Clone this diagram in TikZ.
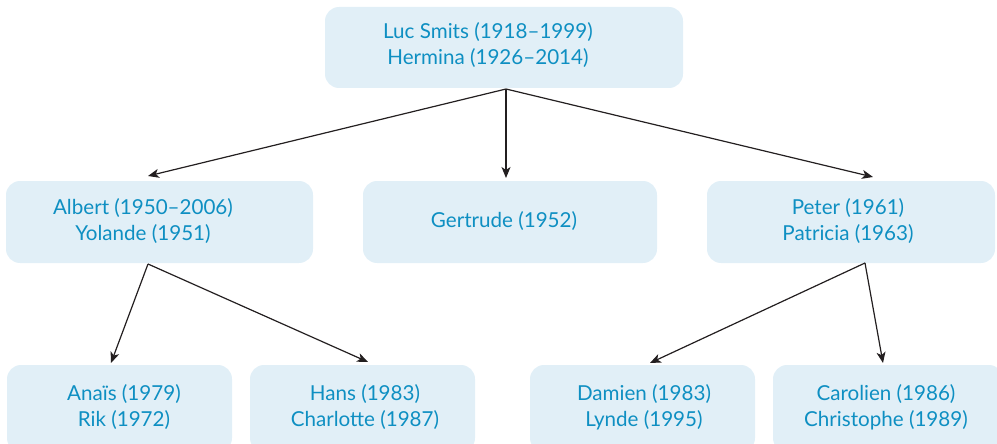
\documentclass[tikz,border=0pt]{standalone}
\usepackage{fontspec}
\setmainfont{Lato}
\usetikzlibrary{arrows.meta}
\definecolor{boxfill}{HTML}{E1EFF7}
\definecolor{txt}{HTML}{0E8FC2}
\definecolor{ln}{HTML}{231F20}
\begin{document}
\begin{tikzpicture}[x=1pt,y=-1pt,
  box/.style={fill=boxfill,draw=none,rounded corners=14pt},
  lbl/.style={text=txt,font=\fontsize{20.6}{26}\selectfont,align=center,inner sep=0pt},
  conn/.style={draw=ln,line width=1.2pt,-{Stealth[length=11pt,width=9pt,inset=3pt]}}]
\clip (0,0) rectangle (997,444);
\useasboundingbox (0,0) rectangle (997,444);
% boxes
\path[box] (325,7) rectangle (683,88);
\path[box] (6,181) rectangle (313,263);
\path[box] (363,181) rectangle (657,263);
\path[box] (707,181) rectangle (995,263);
\path[box] (7,365) rectangle (232,452);
\path[box] (250,365) rectangle (475,452);
\path[box] (530,365) rectangle (755,452);
\path[box] (773,365) rectangle (1003,452);
% labels
\node[lbl] (luc) at (488,45) {Luc Smits (1918–1999)\\Hermina (1926–2014)};
\node[lbl] (albert) at (143,221.5) {Albert (1950–2006)\\Yolande (1951)};
\node[lbl] (gertrude) at (504,221) {Gertrude (1952)};
\node[lbl] (peter) at (848,221.5) {Peter (1961)\\Patricia (1963)};
\node[lbl] (anais) at (124,407) {Anaïs (1979)\\Rik (1972)};
\node[lbl] (hans) at (365,407) {Hans (1983)\\Charlotte (1987)};
\node[lbl] (damien) at (644,407) {Damien (1983)\\Lynde (1995)};
\node[lbl] (carolien) at (886,407) {Carolien (1986)\\Christophe (1989)};
% connector points
\coordinate (o1) at (506,89);
\coordinate (o2) at (148,264);
\coordinate (o3) at (865,263);
\coordinate (tA) at (148,176);
\coordinate (tG) at (506,178);
\coordinate (tP) at (873,177);
\coordinate (tAn) at (111,363);
\coordinate (tH) at (368,362);
\coordinate (tD) at (650,363);
\coordinate (tC) at (883,363);
\draw[conn] (o1) -- (tA);
\draw[conn] (o1) -- (tG);
\draw[conn] (o1) -- (tP);
\draw[conn] (o2) -- (tAn);
\draw[conn] (o2) -- (tH);
\draw[conn] (o3) -- (tD);
\draw[conn] (o3) -- (tC);
\end{tikzpicture}
\end{document}
